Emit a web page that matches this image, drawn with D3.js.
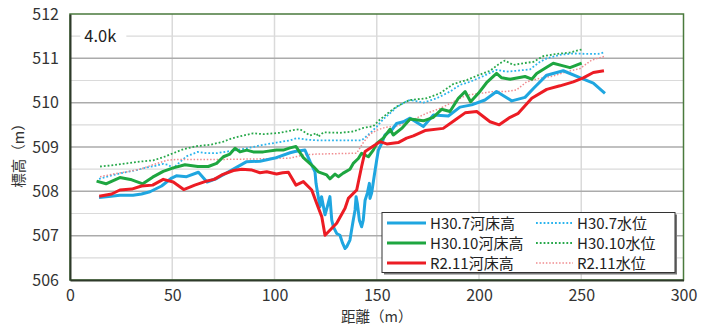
<!DOCTYPE html>
<html><head><meta charset="utf-8">
<script src="https://cdn.jsdelivr.net/npm/d3@7"></script>
<style>body{margin:0;background:#fff} svg{display:block}</style>
</head><body><svg id="chart" width="711" height="329"></svg>
<script>
// Cross-section profile at 4.0k: distance (m) vs elevation (m)
const xTicks = [0, 50, 100, 150, 200, 250, 300];
const yTicks = [506, 507, 508, 509, 510, 511, 512];
const sectionLabel = "4.0k";
const xTitle = "距離（m）";
const yTitle = "標高（m）";

// Riverbed elevation, H30.7 survey
const bedH30_7 = [[14.2,507.86],[20,507.89],[24.4,507.91],[30.8,507.91],[35,507.94],[39.1,507.99],[44.8,508.12],[49.7,508.3],[52,508.35],[57,508.33],[62.8,508.43],[67,508.21],[71.7,508.29],[79.9,508.5],[86.4,508.67],[92.9,508.68],[100.2,508.75],[107.6,508.87],[110,508.9],[114.9,508.93],[117.4,508.67],[119.8,508.44],[120.3,508.18],[121.4,507.88],[122.2,507.65],[123,507.88],[124.7,507.47],[125.8,507.65],[127.1,507.88],[128,507.35],[128.8,507.2],[130.4,507.05],[132,507.01],[133.3,506.83],[134.5,506.71],[135.3,506.75],[136.9,506.9],[137.7,507.13],[138.5,507.35],[139.4,507.58],[139.9,507.88],[140.5,507.73],[141.5,507.35],[142.6,507.2],[143.4,507.35],[144.3,507.8],[145.4,507.96],[146.4,508.18],[146.7,507.84],[147.5,507.96],[148.7,508.33],[150,508.71],[150.8,508.93],[152.4,509.08],[154,509.27],[157.3,509.38],[159.7,509.53],[163,509.57],[166.3,509.65],[172.8,509.46],[177.7,509.72],[185,509.7],[190.7,509.9],[196.4,509.95],[202.9,510.06],[208.6,510.25],[216,510.04],[222.5,510.12],[226.6,510.32],[233.1,510.62],[241.2,510.72],[250.2,510.55],[255.9,510.44],[261.6,510.21]];

// Riverbed elevation, H30.10 survey
const bedH30_10 = [[13,508.23],[17.6,508.17],[24.4,508.31],[30.2,508.26],[35.6,508.17],[40.4,508.32],[45.6,508.45],[50.5,508.53],[56.2,508.6],[62.5,508.56],[67.6,508.56],[71.7,508.63],[75,508.78],[78.2,508.84],[80.7,508.97],[83.1,508.89],[86.4,508.93],[89.6,508.89],[94.5,508.89],[101,508.93],[104.3,508.93],[107.6,508.98],[110.5,509.01],[114.1,508.76],[119,508.56],[121.4,508.44],[125.5,508.37],[127.1,508.28],[129.6,508.39],[131.2,508.33],[133.6,508.41],[136.9,508.5],[138.5,508.63],[141,508.74],[142.6,508.86],[145.9,508.78],[148.3,508.93],[150,509.08],[153.2,509.2],[156.5,509.4],[158.1,509.27],[162.2,509.42],[166.3,509.63],[172.8,509.59],[177.7,509.67],[181.7,509.85],[185.8,509.8],[189.9,510.1],[193.2,510.25],[195.9,510.02],[199.7,510.21],[203.7,510.45],[208.6,510.66],[211.1,510.56],[215.2,510.53],[222.5,510.59],[225.8,510.53],[228.2,510.66],[233.1,510.8],[236.3,510.89],[241.2,510.83],[244.5,510.79],[250.2,510.89]];

// Riverbed elevation, R2.11 survey
const bedR2_11 = [[14.3,507.89],[20.4,507.94],[24.4,508.03],[30.2,508.05],[35,508.12],[40.4,508.14],[45.6,508.27],[50.5,508.21],[55.6,508.04],[61,508.14],[66,508.22],[70.5,508.27],[74.2,508.37],[79.9,508.47],[84,508.5],[89,508.48],[92.9,508.42],[96.2,508.44],[101,508.39],[104,508.42],[106.8,508.43],[110.5,508.14],[114.1,508.22],[118.2,508.03],[120.6,507.73],[123.1,507.43],[124.7,507.01],[130.4,507.28],[134.5,507.62],[136.1,507.84],[140.2,508.03],[142.6,508.56],[144.3,508.9],[146.7,508.97],[151.6,509.12],[154.9,509.07],[160.5,509.1],[164.6,509.2],[167.9,509.25],[173.6,509.37],[182.5,509.42],[188.3,509.61],[193.2,509.77],[198.9,509.8],[205.4,509.57],[209.9,509.5],[215.2,509.67],[219.2,509.76],[225.8,510.1],[233.1,510.3],[239.6,510.38],[246.1,510.47],[251,510.56],[255.9,510.68],[261.1,510.72]];

// Water level, H30.7
const wlH30_7 = [[14.2,508.28],[19.6,508.35],[26.1,508.42],[32.6,508.48],[37.5,508.54],[42.4,508.58],[45.6,508.62],[48,508.6],[50.5,508.52],[53.5,508.65],[57,508.79],[62.5,508.89],[66.8,508.86],[71.7,508.86],[79.9,508.92],[86.4,508.97],[94.5,509.05],[101,509.1],[107.6,509.15],[110.9,509.2],[114.9,509.17],[120.6,509.15],[142.6,509.15],[146.7,509.31],[150,509.46],[153.2,509.63],[156.5,509.76],[159.7,509.9],[164.6,510.03],[166.3,510.06],[172.8,510.0],[179.3,510.1],[185.8,510.25],[190.7,510.4],[195.6,510.47],[202.1,510.6],[208.6,510.74],[213.5,510.7],[218.4,510.72],[224.9,510.75],[229.8,510.92],[233.1,511.0],[239.6,511.08],[246.1,511.11],[252.6,511.1],[258.3,511.1],[261.6,511.14]];

// Water level, H30.10
const wlH30_10 = [[14.7,508.56],[21.2,508.59],[27.7,508.63],[34.2,508.67],[40.7,508.7],[45.6,508.77],[50.5,508.86],[55.4,508.95],[62,509.02],[68.5,509.05],[75,509.12],[78.2,509.18],[83.1,509.24],[89.6,509.31],[94.5,509.29],[102.7,509.32],[109.2,509.38],[112.5,509.4],[117.4,509.26],[120.6,509.31],[121.4,509.23],[123.9,509.33],[132,509.32],[138.5,509.35],[143.4,509.43],[148.3,509.47],[151.6,509.62],[156.5,509.8],[159.7,509.91],[164.6,510.03],[166.3,510.06],[174.4,510.1],[180.9,510.21],[187.4,510.42],[194,510.51],[199.7,510.62],[205.4,510.72],[210.3,510.89],[212.7,510.95],[216.8,510.85],[221.7,510.89],[226.6,510.92],[231.5,511.05],[238,511.1],[244.5,511.13],[250.2,511.2]];

// Water level, R2.11
const wlR2_11 = [[14.7,508.33],[21.2,508.39],[27.7,508.44],[34.2,508.5],[40.7,508.6],[47.3,508.7],[52.2,508.72],[60.3,508.72],[75,508.72],[90,508.73],[107.6,508.75],[114.1,508.82],[120.6,508.84],[140.2,508.86],[143.4,509.1],[146.7,509.29],[150,509.38],[154,509.44],[160.5,509.48],[167.9,509.62],[174.4,509.76],[180.9,509.87],[187.4,510.02],[194,510.17],[200.5,510.21],[207,510.25],[213.5,510.25],[218.4,510.29],[223.3,510.47],[229.8,510.55],[236.3,510.6],[242.9,510.7],[249.4,510.77],[255.1,510.96],[261.1,511.04]];

const seriesNames = ["H30.7河床高", "H30.10河床高", "R2.11河床高", "H30.7水位", "H30.10水位", "R2.11水位"];
const seriesData = [bedH30_7, bedH30_10, bedR2_11, wlH30_7, wlH30_10, wlR2_11];

const styles = [
  {color: "#1fa6e0", width: 3, dash: null},
  {color: "#1ea640", width: 3, dash: null},
  {color: "#ec1c24", width: 3, dash: null},
  {color: "#2ab4ee", width: 1.8, dash: "1.8,2"},
  {color: "#27a84a", width: 1.8, dash: "1.8,2"},
  {color: "#f08a8e", width: 1.5, dash: "1.5,1.8"}
];

const svg = d3.select("#chart");
const W = 711, H = 329;
const m = {left: 70, right: 27.5, top: 14, bottom: 49};
const iw = W - m.left - m.right, ih = H - m.top - m.bottom;

const x = d3.scaleLinear().domain([0, 300]).range([m.left, m.left + iw]);
const y = d3.scaleLinear().domain([506, 512]).range([m.top + ih, m.top]);

const font = "'Noto Sans CJK JP', 'Noto Sans', sans-serif";

// minor grid (every 0.5 m)
const minorY = d3.range(506.5, 512, 1);
svg.append("g").selectAll("line").data(minorY).join("line")
  .attr("x1", x(0)).attr("x2", x(300))
  .attr("y1", d => y(d)).attr("y2", d => y(d))
  .attr("stroke", "#dadada").attr("stroke-width", 1.2);

// vertical grid
svg.append("g").selectAll("line").data(xTicks.slice(1, -1)).join("line")
  .attr("x1", d => x(d)).attr("x2", d => x(d))
  .attr("y1", y(506)).attr("y2", y(512))
  .attr("stroke", "#dadada").attr("stroke-width", 1.5);

// major grid
svg.append("g").selectAll("line").data(yTicks.slice(1, -1)).join("line")
  .attr("x1", x(0)).attr("x2", x(300))
  .attr("y1", d => y(d)).attr("y2", d => y(d))
  .attr("stroke", "#ababab").attr("stroke-width", 1.5);

// section label with white backing
const lblX = x(7), lblY = y(511.5);
svg.append("rect").attr("x", lblX - 4).attr("y", lblY - 10).attr("width", 46).attr("height", 20).attr("fill", "#fff");
svg.append("text").attr("x", lblX).attr("y", lblY + 6)
  .attr("font-family", font).attr("font-size", 16.5).attr("fill", "#222")
  .text(sectionLabel);

// plot frame
svg.append("rect").attr("x", x(0)).attr("y", y(512)).attr("width", iw).attr("height", ih)
  .attr("fill", "none").attr("stroke", "#4a7a3c").attr("stroke-width", 1.5);

// axes
const xAxis = d3.axisBottom(x).tickValues(xTicks).tickSize(0).tickPadding(10);
const yAxis = d3.axisLeft(y).tickValues(yTicks).tickSize(0).tickPadding(11).tickFormat(d3.format("d"));
const gx = svg.append("g").attr("transform", `translate(0,${y(506)})`).call(xAxis);
const gy = svg.append("g").attr("transform", `translate(${x(0)},0)`).call(yAxis);
[gx, gy].forEach(g => {
  g.select(".domain").attr("stroke", "#2e3a2a").attr("stroke-width", 2);
  g.selectAll("text").attr("font-family", font).attr("font-size", 16).attr("fill", "#333");
});

// lines
const line = d3.line().x(d => x(d[0])).y(d => y(d[1]));
const order = [3, 4, 5, 0, 1, 2];
order.forEach(i => {
  const s = styles[i];
  svg.append("path").datum(seriesData[i])
    .attr("d", line).attr("fill", "none")
    .attr("stroke", s.color).attr("stroke-width", s.width)
    .attr("stroke-linejoin", "round")
    .attr("stroke-dasharray", s.dash);
});

// axis titles
svg.append("text").attr("x", x(150)).attr("y", 322)
  .attr("text-anchor", "middle").attr("font-family", font).attr("font-size", 14.5).attr("fill", "#333")
  .text(xTitle);
svg.append("text").attr("transform", `translate(24,${y(509) + 5}) rotate(-90)`)
  .attr("text-anchor", "middle").attr("font-family", font).attr("font-size", 14.5).attr("fill", "#333")
  .text(yTitle);

// legend
const lg = svg.append("g");
const lx = 382, ly = 212.5, lw = 293, lh = 60;
lg.append("rect").attr("x", lx + 2).attr("y", ly + 2).attr("width", lw).attr("height", lh).attr("fill", "#777");
lg.append("rect").attr("x", lx).attr("y", ly).attr("width", lw).attr("height", lh)
  .attr("fill", "#fff").attr("stroke", "#333").attr("stroke-width", 1);
seriesNames.forEach((name, i) => {
  const col = Math.floor(i / 3), row = i % 3;
  const sx = col === 0 ? 387 : 536;
  const sl = col === 0 ? 39 : 37;
  const yy = ly + 10.5 + row * 20;
  const s = styles[i];
  lg.append("line").attr("x1", sx).attr("x2", sx + sl).attr("y1", yy).attr("y2", yy)
    .attr("stroke", s.color).attr("stroke-width", s.width).attr("stroke-dasharray", s.dash);
  lg.append("text").attr("x", sx + sl + 4).attr("y", yy + 5.5)
    .attr("font-family", font).attr("font-size", 15).attr("fill", "#222").text(name);
});
</script>
</body></html>
